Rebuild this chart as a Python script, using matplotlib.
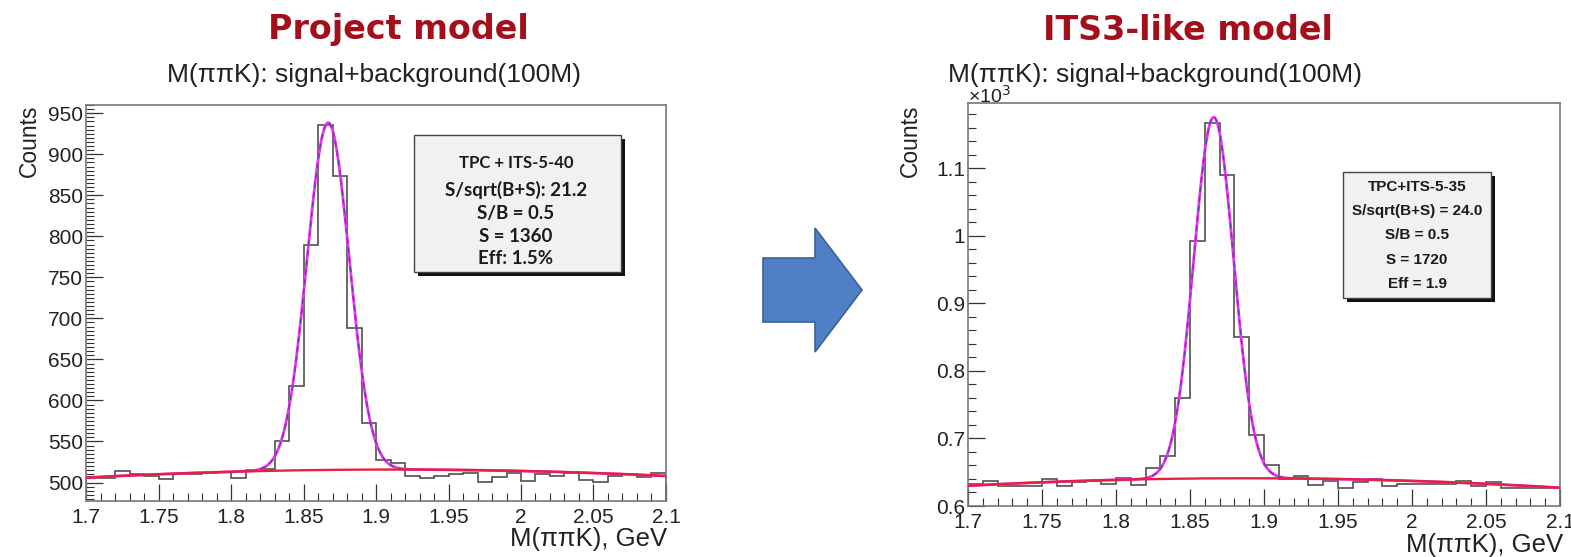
import numpy as np
import matplotlib
matplotlib.use("Agg")
import matplotlib.pyplot as plt
from matplotlib.ticker import MultipleLocator, FixedLocator
from matplotlib.patches import Rectangle, Polygon

# ---------------- data ----------------
bin_edges = np.round(np.arange(1.70, 2.1001, 0.01), 3)

left_counts = [506, 506, 514, 510, 508, 504, 510, 511, 512, 513,
               505, 515, 516, 550, 618, 789, 936, 874, 688, 573,
               528, 524, 508, 506, 508, 510, 512, 501, 507, 512,
               502, 511, 508, 512, 503, 501, 508, 511, 507, 512]

right_counts = [0.632, 0.637, 0.629, 0.629, 0.629, 0.640, 0.630, 0.636, 0.637, 0.632,
                0.642, 0.631, 0.657, 0.674, 0.760, 0.992, 1.168, 1.090, 0.851, 0.705,
                0.661, 0.640, 0.644, 0.631, 0.637, 0.626, 0.635, 0.640, 0.630, 0.632,
                0.632, 0.633, 0.632, 0.637, 0.629, 0.635, 0.627, 0.627, 0.627, 0.626]

# fit parameters: gaussian (mean, sigma, amplitude) + background points
left_fit = dict(mean=1.867, sigma=0.0146, amp=423.0)
left_bg_x = [1.70, 1.85, 2.10]
left_bg_y = [506.0, 515.0, 508.0]
right_fit = dict(mean=1.866, sigma=0.0135, amp=0.535)
right_bg_x = [1.70, 1.87, 2.10]
right_bg_y = [0.630, 0.641, 0.627]

left_stats = ["TPC + ITS-5-40", "S/sqrt(B+S): 21.2", "S/B = 0.5", "S = 1360", "Eff: 1.5%"]
right_stats = ["TPC+ITS-5-35", "S/sqrt(B+S) = 24.0", "S/B = 0.5", "S = 1720", "Eff = 1.9"]

left_yticks = [500, 550, 600, 650, 700, 750, 800, 850, 900, 950]
right_yticks = [0.6, 0.7, 0.8, 0.9, 1.0, 1.1]
right_yticklabels = ["0.6", "0.7", "0.8", "0.9", "1", "1.1"]
xticks = [1.7, 1.75, 1.8, 1.85, 1.9, 1.95, 2.0, 2.05, 2.1]
xticklabels = ["1.7", "1.75", "1.8", "1.85", "1.9", "1.95", "2", "2.05", "2.1"]

# ---------------- figure ----------------
W, H = 1571, 557
fig = plt.figure(figsize=(W / 100, H / 100), dpi=100)
fig.patch.set_facecolor("white")
plt.rcParams["font.family"] = ["Liberation Sans", "DejaVu Sans"]


def px_rect(l, r, t, b):
    return [l / W, 1 - b / H, (r - l) / W, (b - t) / H]


def draw_panel(rect, counts, fit, bgx, bgy, ylim, yticks, yticklabels, yminor, stats,
               box_px, stats_font, stats_size, stats_ys, stats_cx):
    ax = fig.add_axes(rect)
    ax.set_xlim(1.7, 2.1)
    ax.set_ylim(*ylim)
    ax.stairs(counts, bin_edges, color="#505050", lw=1.2)
    xs = np.linspace(1.7, 2.1, 800)
    coef = np.polyfit(bgx, bgy, 2)
    bg = np.polyval(coef, xs)
    tot = bg + fit["amp"] * np.exp(-0.5 * ((xs - fit["mean"]) / fit["sigma"]) ** 2)
    ax.plot(xs, tot, color="#ee33ee", lw=2.0, zorder=3)
    ax.plot(xs, tot, color="#4a3aa8", lw=1.0, ls=(0, (4, 3)), zorder=4, alpha=0.8)
    ax.plot(xs, bg, color="#e8203c", lw=1.7, zorder=5)

    ax.xaxis.set_major_locator(FixedLocator(xticks))
    ax.set_xticklabels(xticklabels)
    ax.xaxis.set_minor_locator(MultipleLocator(0.01))
    ax.yaxis.set_major_locator(FixedLocator(yticks))
    ax.set_yticklabels(yticklabels)
    ax.yaxis.set_minor_locator(MultipleLocator(yminor))
    ax.tick_params(which="both", direction="in", top=False, right=False,
                   labelsize=15, colors="#333333", labelcolor="#222222")
    ax.tick_params(which="major", length=12, width=0.9)
    ax.tick_params(which="minor", length=6, width=0.8)
    ax.tick_params(axis="x", pad=5)
    ax.tick_params(axis="y", pad=2)
    for s in ax.spines.values():
        s.set_color("#777777")
        s.set_linewidth(1.2)

    # stats box (pixel coords)
    l, t, r, b = box_px
    sh = Rectangle(((l + 4) / W, 1 - (b + 4) / H), (r - l) / W, (b - t) / H,
                   transform=fig.transFigure, facecolor="#111111", edgecolor="none", zorder=8)
    bx = Rectangle((l / W, 1 - b / H), (r - l) / W, (b - t) / H,
                   transform=fig.transFigure, facecolor="#f1f1f1", edgecolor="#444444",
                   lw=1.0, zorder=9)
    fig.patches.extend([sh, bx])
    for i, (txt, yy) in enumerate(zip(stats, stats_ys)):
        fs = stats_size[0] if i == 0 else stats_size[1]
        fig.text(stats_cx / W, 1 - yy / H, txt, ha="center", va="center",
                 fontsize=fs, fontweight="bold", family=stats_font, color="#1a1a1a",
                 zorder=10)
    return ax


axL = draw_panel(px_rect(86, 666, 105, 501), left_counts, left_fit, left_bg_x, left_bg_y,
                 (477.5, 960), left_yticks, [str(v) for v in left_yticks], 5, left_stats,
                 (414, 135, 621, 272), ["Lato", "DejaVu Sans"], (12, 13.5),
                 [163, 190, 213, 236, 259], 516)

axR = draw_panel(px_rect(968, 1560, 103, 506), right_counts, right_fit, right_bg_x, right_bg_y,
                 (0.6, 1.197), right_yticks, right_yticklabels, 0.02, right_stats,
                 (1343, 172, 1491, 298), ["Liberation Sans", "DejaVu Sans"], (11, 11),
                 [187, 211, 235, 260, 284], 1417)

# axis labels
for ax, xl_right, xl_y, yl_x in [(axL, 667, 539, 29), (axR, 1563, 545, 910)]:
    fig.text(yl_x / W, 1 - 141 / H, "Counts", rotation=90, ha="center", va="center",
             fontsize=16.5, color="#222222")
    fig.text(xl_right / W, 1 - xl_y / H, "M(\u03c0\u03c0K), GeV", ha="right", va="center",
             fontsize=18.5, color="#222222")

fig.text(989 / W, 1 - 96 / H, "\u00d710$^{3}$", ha="center", va="center", fontsize=14,
         color="#222222")

# subtitles
fig.text(374 / W, 1 - 75 / H, "M(\u03c0\u03c0K): signal+background(100M)", ha="center",
         va="center", fontsize=19, color="#222222")
fig.text(1155 / W, 1 - 75 / H, "M(\u03c0\u03c0K): signal+background(100M)", ha="center",
         va="center", fontsize=19, color="#222222")

# titles
for cx, txt in [(398, "Project model"), (1188, "ITS3-like model")]:
    fig.text(cx / W, 1 - 30 / H, txt, ha="center", va="center", fontsize=24,
             fontweight="bold", family=["DejaVu Sans"], color="#a3101c")

# big arrow
pts = [(763, 258), (815, 258), (815, 228), (862, 290), (815, 352), (815, 322), (763, 322)]
arrow = Polygon([(x / W, 1 - y / H) for x, y in pts], closed=True, transform=fig.transFigure,
                facecolor="#4f7fc4", edgecolor="#3a6299", lw=1.2)
fig.patches.append(arrow)

fig.savefig("out.png", dpi=100, facecolor="white")
